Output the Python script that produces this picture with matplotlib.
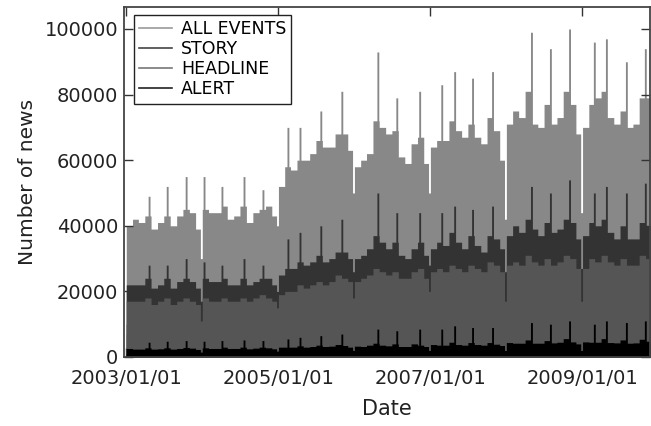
import matplotlib
matplotlib.use("Agg")
import matplotlib.dates as mdates
import matplotlib.pyplot as plt
import numpy as np
import pandas as pd
from matplotlib.lines import Line2D

# typical weekday news count per month, in thousands (Jan 2003 .. Nov 2009)
all_events = [
    40, 42, 41, 43, 39, 41, 43, 40, 43, 45, 44, 39,
    45, 44, 44, 46, 42, 43, 46, 41, 44, 45, 46, 43,
    52, 58, 57, 60, 60, 62, 66, 64, 64, 68, 68, 63,
    58, 60, 62, 72, 70, 68, 69, 61, 59, 65, 67, 59,
    64, 66, 66, 72, 69, 67, 71, 67, 65, 73, 69, 60,
    71, 75, 73, 81, 71, 70, 77, 71, 73, 81, 77, 68,
    70, 77, 79, 81, 73, 71, 75, 70, 71, 79, 79,
]
story = [
    22, 22, 22, 24, 21, 22, 24, 21, 23, 24, 23, 21,
    24, 23, 23, 24, 22, 22, 24, 22, 23, 24, 24, 22,
    25, 27, 27, 29, 28, 29, 31, 29, 30, 32, 32, 30,
    30, 31, 33, 37, 35, 33, 35, 31, 30, 33, 35, 31,
    33, 35, 34, 38, 35, 33, 37, 34, 32, 37, 36, 33,
    37, 40, 38, 42, 39, 37, 41, 38, 39, 42, 41, 36,
    37, 41, 40, 42, 38, 36, 40, 36, 36, 41, 40,
]
headline = [
    17, 17, 17, 18, 16, 17, 18, 16, 17, 18, 17, 16,
    18, 17, 17, 18, 17, 17, 18, 17, 18, 19, 18, 17,
    19, 20, 20, 22, 21, 22, 23, 22, 23, 25, 24, 23,
    23, 24, 25, 27, 26, 25, 26, 24, 24, 26, 27, 24,
    26, 27, 26, 28, 27, 26, 28, 27, 26, 29, 28, 26,
    28, 29, 28, 31, 29, 28, 30, 28, 29, 31, 30, 27,
    27, 30, 29, 31, 29, 28, 30, 28, 28, 31, 30,
]
alert = [
    2.6, 2.4, 2.4, 2.8, 2.4, 2.5, 2.8, 2.4, 2.6, 2.9, 2.7, 2.3,
    2.8, 2.6, 2.6, 3.0, 2.6, 2.6, 3.0, 2.5, 2.7, 3.0, 2.8, 2.5,
    3.0, 3.0, 3.0, 3.4, 3.0, 3.2, 3.6, 3.2, 3.3, 3.8, 3.5, 3.0,
    3.3, 3.2, 3.6, 4.2, 3.6, 3.4, 4.0, 3.2, 3.2, 4.0, 3.6, 3.2,
    3.8, 3.6, 3.6, 4.5, 3.8, 3.6, 4.4, 3.8, 3.6, 4.4, 3.9, 3.5,
    4.4, 4.2, 4.2, 5.2, 4.2, 4.2, 5.0, 4.3, 4.5, 5.6, 4.6, 4.0,
    4.6, 4.5, 4.5, 5.6, 4.4, 4.3, 5.2, 4.2, 4.3, 5.4, 4.8,
]

# short bursts around earnings seasons (thousands)
spike_dates = [
    "2003-04-21", "2003-07-17", "2003-10-16", "2004-01-10", "2004-04-05",
    "2004-07-20", "2004-10-19", "2005-02-16", "2005-04-15", "2005-07-24",
    "2005-11-02", "2006-04-24", "2006-07-24", "2006-11-11", "2007-02-25",
    "2007-04-28", "2007-07-23", "2007-10-27", "2008-05-01", "2008-07-31",
    "2008-10-31", "2009-02-27", "2009-04-26", "2009-07-31", "2009-10-30",
]
spike_all = [49, 52, 55, 55, 52, 55, 51, 70, 70, 75, 81, 93, 79, 81, 83,
             87, 85, 87, 99, 94, 100, 96, 97, 90, 94]
spike_story = [28, 28, 30, 29, 28, 30, 28, 36, 38, 40, 42, 50, 44, 44, 44,
               46, 45, 46, 52, 50, 54, 50, 52, 50, 53]
spike_alert = [4.5, 4.8, 5.0, 4.8, 5.0, 5.2, 5.0, 5.5, 6.0, 6.5, 7.0, 8.5,
               8.0, 8.5, 8.5, 9.5, 9.0, 9.0, 10.5, 10.0, 11.0, 10.0, 11.0,
               10.5, 11.0]

# year-end lulls (thousands)
holiday_first = ["2003-01-01", "2003-12-24", "2004-12-24", "2005-12-24",
                 "2006-12-24", "2007-12-24", "2008-12-24"]
holiday_last = ["2003-01-01", "2004-01-01", "2005-01-01", "2006-01-01",
                "2007-01-01", "2008-01-01", "2009-01-01"]
holiday_all = [20, 30, 40, 50, 50, 42, 44]
holiday_story = [10, 17, 20, 26, 28, 26, 27]
holiday_headline = [7, 11, 15, 18, 20, 17, 17]
holiday_alert = [1.0, 1.5, 1.8, 2.0, 2.0, 2.0, 2.0]

names = ["ALL EVENTS", "STORY", "HEADLINE", "ALERT"]
fill_colors = ["#888888", "#333333", "#555555", "#000000"]
legend_colors = ["#999999", "#444444", "#777777", "#222222"]

days = pd.date_range("2003-01-01", "2009-11-22", freq="D")
month_pos = (days.year - 2003) * 12 + days.month - 1


def to_daily(monthly, spike_vals, hol_vals):
    vals = np.asarray(monthly, dtype=float)[month_pos] * 1000
    if spike_vals is not None:
        for d, v in zip(spike_dates, spike_vals):
            c = pd.Timestamp(d)
            mask = (days >= c - pd.Timedelta(days=4)) & (days <= c + pd.Timedelta(days=4))
            vals[mask] = np.maximum(vals[mask], v * 1000)
    for first, last, v in zip(holiday_first, holiday_last, hol_vals):
        mask = (days >= pd.Timestamp(first)) & (days <= pd.Timestamp(last))
        vals[mask] = v * 1000
    return vals


series = [
    to_daily(all_events, spike_all, holiday_all),
    to_daily(story, spike_story, holiday_story),
    to_daily(headline, None, holiday_headline),
    to_daily(alert, spike_alert, holiday_alert),
]

x = mdates.date2num(days)
x_edges = np.append(x, x[-1] + 1)

fig, ax = plt.subplots(figsize=(6.51, 4.26), dpi=100)
fig.subplots_adjust(left=124 / 651, right=650 / 651, bottom=69 / 426, top=419 / 426)

for vals, col, z in zip(series, fill_colors, [1, 2, 3, 4]):
    ax.fill_between(x_edges, np.append(vals, vals[-1]), step="post",
                    color=col, lw=0, zorder=z)

ax.set_xlim(mdates.date2num(pd.Timestamp("2002-12-22")),
            mdates.date2num(pd.Timestamp("2009-11-22")))
ax.set_ylim(0, 106700)

tick_dates = pd.to_datetime(["2003-01-01", "2005-01-01", "2007-01-01", "2009-01-01"])
ax.set_xticks(mdates.date2num(tick_dates))
ax.set_xticklabels([d.strftime("%Y/%m/%d") for d in tick_dates])
ax.set_yticks(np.arange(0, 100001, 20000))
ax.set_yticklabels([str(v) for v in np.arange(0, 100001, 20000)])

ax.tick_params(direction="in", length=6.5, width=1, color="#333333",
               top=True, right=True, labelsize=14, labelcolor="#222222")
ax.tick_params(axis="x", pad=9)
ax.tick_params(axis="y", pad=4.3)
for sp in ax.spines.values():
    sp.set_color("#444444")
    sp.set_linewidth(1.3)
    sp.set_zorder(10)

ax.set_ylabel("Number of news", fontsize=14.5, color="#222222")
ax.yaxis.set_label_coords(-0.165, 0.5)
ax.set_xlabel("Date", fontsize=15, color="#222222")
ax.xaxis.set_label_coords(0.5, -0.119)

handles = [Line2D([], [], color=c, lw=1.2) for c in legend_colors]
leg = ax.legend(handles, names, loc="upper left",
                bbox_to_anchor=(10 / 527, (357 - 15) / 350), borderaxespad=0,
                frameon=True, fancybox=False, edgecolor="#222222", framealpha=1,
                fontsize=12.5, handlelength=1.9, handletextpad=0.5,
                labelspacing=0.12, borderpad=0.3)
leg.get_frame().set_linewidth(1.0)
leg.set_zorder(20)

fig.savefig("out.png", dpi=100, facecolor="white")
